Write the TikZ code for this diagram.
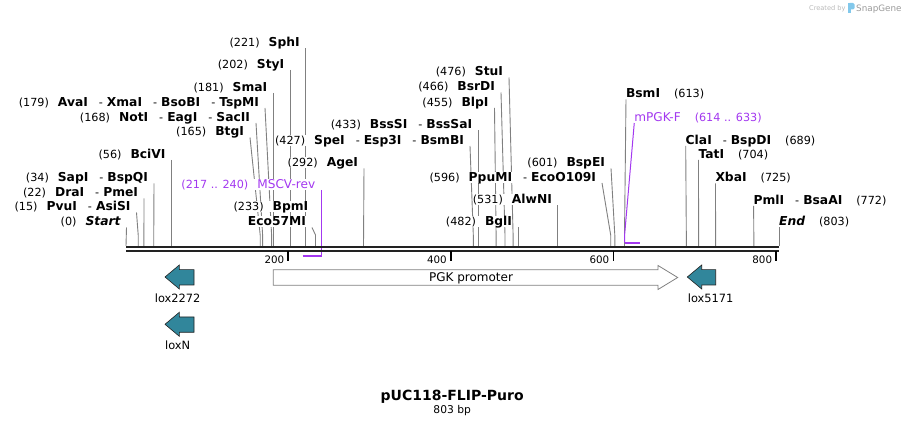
\documentclass[tikz,border=0pt]{standalone}
\usepackage{fontspec}
\setmainfont{DejaVu Sans}
\usetikzlibrary{positioning,backgrounds}

\definecolor{primer}{RGB}{163,56,240}
\definecolor{loxteal}{RGB}{49,134,155}
\definecolor{leadgray}{RGB}{128,128,128}
\definecolor{bbgray}{RGB}{34,34,34}
\definecolor{wmgray}{RGB}{185,185,185}
\definecolor{wmblue}{RGB}{130,200,235}

% enzyme names, separators
\newcommand{\enz}[1]{{\fontsize{12.3}{14}\selectfont\bfseries #1}}
\newcommand{\esep}{\hspace{11pt}-\hspace{4pt}}
\newcommand{\ngap}{\hspace{9pt}}
\newcommand{\rgap}{\hspace{14pt}}

\tikzset{
  enzL/.style={anchor=south east, inner sep=0pt, outer xsep=6pt, outer ysep=0pt, fill=white,
    text height=9.5pt, text depth=1.5pt, font=\fontsize{11.2}{13}\selectfont},
  enzR/.style={anchor=south west, inner sep=0pt, outer sep=0pt, fill=white,
    text height=9.5pt, text depth=1.5pt, font=\fontsize{11.2}{13}\selectfont},
  leader/.style={draw=leadgray, line width=0.9pt},
  primerlead/.style={draw=primer, line width=1pt},
  primerbar/.style={draw=primer, line width=2pt},
  backbone/.style={draw=bbgray, line width=2.2pt},
  tickmark/.style={draw=black, line width=1.7pt},
  ticklbl/.style={anchor=base east, inner sep=0pt, font=\fontsize{10.3}{12}\selectfont},
  loxarrow/.style={fill=loxteal, draw=bbgray, line width=0.6pt},
  pgkbox/.style={fill=white, draw=leadgray, line width=0.8pt},
  featlbl/.style={anchor=base, inner sep=0pt, font=\fontsize{11.4}{13}\selectfont}
}

\begin{document}
\begin{tikzpicture}[x=1pt,y=-1pt]
  \useasboundingbox (0,0) rectangle (906,427);

  % watermark
  \node[anchor=base west, inner sep=0pt, font=\fontsize{6.6}{8}\selectfont, text=wmgray]
  (wmby) at (809,10.5) {Created by};
  \fill[wmblue] (848,3) rectangle (850.5,13);
  \fill[wmblue, rounded corners=1.5pt] (848,3) rectangle (854.5,9.5);
  \node[anchor=base west, inner sep=0pt, font=\fontsize{8.8}{10}\selectfont, text=leadgray!80]
  (wmsg) at (856,11.5) {SnapGene};

  % cut sites on the backbone
  \coordinate (sStart) at (126,246);
  \coordinate (sPvuI) at (138.2,246);
  \coordinate (sDraI) at (143.9,246);
  \coordinate (sSapI) at (153.7,246);
  \coordinate (sBciVI) at (171.5,246);
  \coordinate (sBtgI) at (260.2,246);
  \coordinate (sNotI) at (262.6,246);
  \coordinate (sAvaI) at (271.6,246);
  \coordinate (sSmaI) at (273.2,246);
  \coordinate (sStyI) at (290.3,246);
  \coordinate (sSphI) at (305.7,246);
  \coordinate (sBpmI) at (315.5,246);
  \coordinate (sAgeI) at (363.5,246);
  \coordinate (sSpeI) at (473.3,246);
  \coordinate (sBssSI) at (478.2,246);
  \coordinate (sBlpI) at (496.1,246);
  \coordinate (sBsrDI) at (505,246);
  \coordinate (sStuI) at (513.1,246);
  \coordinate (sBglI) at (518,246);
  \coordinate (sAlwNI) at (557.9,246);
  \coordinate (sPpuMI) at (610.7,246);
  \coordinate (sBspEI) at (614.8,246);
  \coordinate (sBsmI) at (624.5,246);
  \coordinate (sClaI) at (686.4,246);
  \coordinate (sTatI) at (698.6,246);
  \coordinate (sXbaI) at (715.6,246);
  \coordinate (sPmlI) at (753.9,246);
  \coordinate (sEnd) at (779.1,246);

  % enzyme labels, left of their line
  \node[enzL] (lStart) at (126.5,227.5) {(0)\ngap\enz{\itshape Start}};
  \node[enzL] (lPvuI) at (136.5,212.5) {(15)\ngap\enz{PvuI}\esep\enz{AsiSI}};
  \node[enzL] (lDraI) at (144,198.5) {(22)\ngap\enz{DraI}\esep\enz{PmeI}};
  \node[enzL] (lSapI) at (154,183.5) {(34)\ngap\enz{SapI}\esep\enz{BspQI}};
  \node[enzL] (lBciVI) at (171.5,160) {(56)\ngap\enz{BciVI}};
  \node[enzL] (lBtgI) at (250,137.5) {(165)\ngap\enz{BtgI}};
  \node[enzL] (lNotI) at (256,123) {(168)\ngap\enz{NotI}\esep\enz{EagI}\esep\enz{SacII}};
  \node[enzL] (lAvaI) at (265,108)
  {(179)\ngap\enz{AvaI}\esep\enz{XmaI}\esep\enz{BsoBI}\esep\enz{TspMI}};
  \node[enzL] (lSmaI) at (273.2,93) {(181)\ngap\enz{SmaI}};
  \node[enzL] (lStyI) at (290.3,70) {(202)\ngap\enz{StyI}};
  \node[enzL] (lSphI) at (305.7,48.3) {(221)\ngap\enz{SphI}};
  \node[enzL] (lBpmI) at (314.3,212.5) {(233)\ngap\enz{BpmI}};
  \node[enzL] (lEco57MI) at (312,227.5) {\enz{Eco57MI}};
  \node[enzL] (lAgeI) at (364,168.3) {(292)\ngap\enz{AgeI}};
  \node[enzL] (lSpeI) at (470,146) {(427)\ngap\enz{SpeI}\esep\enz{Esp3I}\esep\enz{BsmBI}};
  \node[enzL] (lBssSI) at (478.2,130.5) {(433)\ngap\enz{BssSI}\esep\enz{BssSaI}};
  \node[enzL] (lBlpI) at (494.5,108) {(455)\ngap\enz{BlpI}};
  \node[enzL] (lBsrDI) at (501,92.5) {(466)\ngap\enz{BsrDI}};
  \node[enzL] (lStuI) at (509,77.5) {(476)\ngap\enz{StuI}};
  \node[enzL] (lPpuMI) at (602,183) {(596)\ngap\enz{PpuMI}\esep\enz{EcoO109I}};
  \node[enzL] (lBspEI) at (611,168.3) {(601)\ngap\enz{BspEI}};
  \node[enzL] (lAlwNI) at (557.9,205.3) {(531)\ngap\enz{AlwNI}};
  \node[enzL] (lBglI) at (518,227.3) {(482)\ngap\enz{BglI}};

  % enzyme labels, right of their line
  \node[enzR] (lBsmI) at (626,99.5) {\enz{BsmI}\rgap(613)};
  \node[enzR] (lClaI) at (685.7,146) {\enz{ClaI}\esep\enz{BspDI}\rgap(689)};
  \node[enzR] (lTatI) at (698.5,160) {\enz{TatI}\rgap(704)};
  \node[enzR] (lXbaI) at (715.5,183.3) {\enz{XbaI}\rgap(725)};
  \node[enzR] (lPmlI) at (753.6,206) {\enz{PmlI}\esep\enz{BsaAI}\rgap(772)};
  \node[enzR] (lEnd) at (779.1,226.7) {\enz{\itshape End}\rgap(803)};

  % primers
  \coordinate (pRevA) at (302.5,255.7);
  \coordinate (pRevB) at (321.2,255.7);
  \coordinate (pFwdA) at (624.6,242.7);
  \coordinate (pFwdB) at (640,242.7);
  \node[enzL, text=primer] (lMSCV) at (321.2,190)
  {(217 .. 240)\ngap{\fontsize{12.1}{14}\selectfont MSCV-rev}};
  \node[enzR, text=primer] (lmPGK) at (634.3,122.7)
  {{\fontsize{12.1}{14}\selectfont mPGK-F}\rgap(614 .. 633)};

  % leaders, behind the labels
  \begin{pgfonlayer}{background}
  \draw[leader] (lStart.south east) -- (sStart);
  \draw[leader] (lPvuI.south east) -- ([yshift=11pt]sPvuI) -- (sPvuI);
  \draw[leader] (lDraI.south east) -- (sDraI);
  \draw[leader] (lSapI.south east) -- (sSapI);
  \draw[leader] (lBciVI.south east) -- (sBciVI);
  \draw[leader] (lBtgI.south east) -- ([yshift=11pt]sBtgI) -- (sBtgI);
  \draw[leader] (lNotI.south east) -- ([yshift=11pt]sNotI) -- (sNotI);
  \draw[leader] (lAvaI.south east) -- ([yshift=11pt]sAvaI) -- (sAvaI);
  \draw[leader] (lSmaI.south east) -- (sSmaI);
  \draw[leader] (lStyI.south east) -- (sStyI);
  \draw[leader] (lSphI.south east) -- (sSphI);
  \draw[leader] (lEco57MI.south east) -- ([yshift=11pt]sBpmI) -- (sBpmI);
  \draw[leader] (lAgeI.south east) -- (sAgeI);
  \draw[leader] (lSpeI.south east) -- ([yshift=11pt]sSpeI) -- (sSpeI);
  \draw[leader] (lBssSI.south east) -- (sBssSI);
  \draw[leader] (lBlpI.south east) -- ([yshift=11pt]sBlpI) -- (sBlpI);
  \draw[leader] (lBsrDI.south east) -- ([yshift=11pt]sBsrDI) -- (sBsrDI);
  \draw[leader] (lStuI.south east) -- ([yshift=11pt]sStuI) -- (sStuI);
  \draw[leader] (lPpuMI.south east) -- ([yshift=11pt]sPpuMI) -- (sPpuMI);
  \draw[leader] (lBspEI.south east) -- ([yshift=11pt]sBspEI) -- (sBspEI);
  \draw[leader] (lAlwNI.south east) -- (sAlwNI);
  \draw[leader] (lBglI.south east) -- (sBglI);
  \draw[leader] (lBsmI.south west) -- ([yshift=11pt]sBsmI) -- (sBsmI);
  \draw[leader] (lClaI.south west) -- (sClaI);
  \draw[leader] (lTatI.south west) -- (sTatI);
  \draw[leader] (lXbaI.south west) -- (sXbaI);
  \draw[leader] (lPmlI.south west) -- (sPmlI);
  \draw[leader] (lEnd.south west) -- (sEnd);
  \draw[primerlead] (lMSCV.south east) -- ([yshift=-1pt]pRevB);
  \draw[primerlead] (lmPGK.south west) -- ([yshift=7.7pt]pFwdA) -- (pFwdA);
  \end{pgfonlayer}
  \draw[primerbar] (pRevA) -- (pRevB);
  \draw[primerbar] (pFwdA) -- (pFwdB);

  % backbone
  \coordinate (bbL1) at (126,247);
  \coordinate (bbR1) at (779.1,247);
  \coordinate (bbL2) at (126,250.8);
  \coordinate (bbR2) at (779.1,250.8);
  \draw[backbone] (bbL1) -- (bbR1);
  \draw[backbone] (bbL2) -- (bbR2);

  % ruler
  \coordinate (t200a) at (288.2,251);
  \coordinate (t200b) at (288.2,261.5);
  \coordinate (t400a) at (450.8,251);
  \coordinate (t400b) at (450.8,261.5);
  \coordinate (t600a) at (613.5,251);
  \coordinate (t600b) at (613.5,261.5);
  \coordinate (t800a) at (776.2,251);
  \coordinate (t800b) at (776.2,261.5);
  \draw[tickmark] (t200a) -- (t200b);
  \draw[tickmark] (t400a) -- (t400b);
  \draw[tickmark] (t600a) -- (t600b);
  \draw[tickmark] (t800a) -- (t800b);
  \node[ticklbl] (n200) at (284.5,263.3) {200};
  \node[ticklbl] (n400) at (447,263.3) {400};
  \node[ticklbl] (n600) at (609.5,263.3) {600};
  \node[ticklbl] (n800) at (772.3,263.3) {800};

  % features
  \draw[pgkbox] (273.3,269.7) -- (658,269.7) -- (658,265.5) -- (677.7,277.5)
    -- (658,289.5) -- (658,285.2) -- (273.3,285.2) -- cycle;
  \node[featlbl, font=\fontsize{12}{14}\selectfont] (lPGK) at (471,281.6) {PGK promoter};
  \draw[loxarrow] (194,269.7) -- (179.3,269.7) -- (179.3,265) -- (165,277)
    -- (179.3,289) -- (179.3,285) -- (194,285) -- cycle;
  \node[featlbl] (l2272) at (177.7,302.7) {lox2272};
  \draw[loxarrow] (194,317) -- (179.3,317) -- (179.3,312.3) -- (165,324.3)
    -- (179.3,336.3) -- (179.3,332.3) -- (194,332.3) -- cycle;
  \node[featlbl] (lN) at (177.7,350) {loxN};
  \draw[loxarrow] (715.7,269.7) -- (701.7,269.7) -- (701.7,265) -- (687.3,277)
    -- (701.7,289) -- (701.7,285) -- (715.7,285) -- cycle;
  \node[featlbl] (l5171) at (710.7,302.7) {lox5171};

  % title
  \node[anchor=base, inner sep=0pt, font=\fontsize{14}{16}\selectfont\bfseries]
  (title) at (452.2,400.7) {pUC118-FLIP-Puro};
  \node[anchor=base, inner sep=0pt, font=\fontsize{10.7}{12}\selectfont]
  (size) at (452.2,414) {803 bp};
\end{tikzpicture}
\end{document}
